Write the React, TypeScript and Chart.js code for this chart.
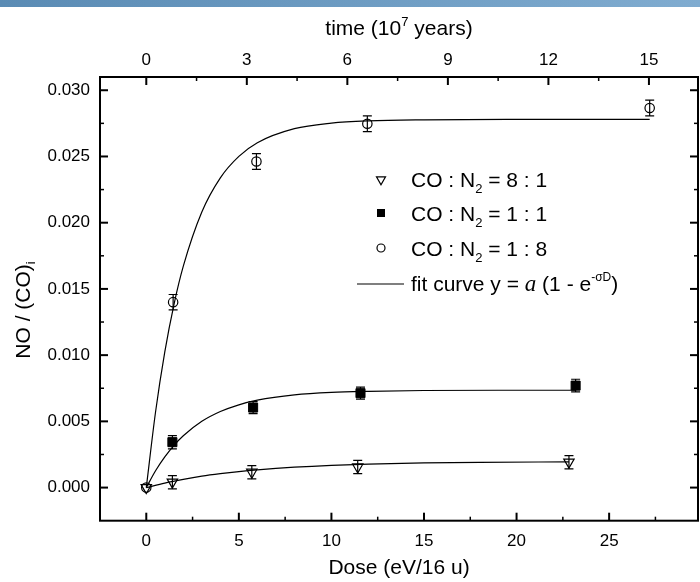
import React, { useEffect, useRef } from "react";
import { Chart, registerables } from "chart.js";

Chart.register(...registerables);

const SANS = '"Liberation Sans", Arial, sans-serif';
const SERIF = '"Liberation Serif", "Times New Roman", serif';

// Axis ticks
const DOSE_TICKS = [0, 5, 10, 15, 20, 25];
const DOSE_MINOR = [2.5, 7.5, 12.5, 17.5, 22.5, 27.5];
const TIME_TICKS = [0, 3, 6, 9, 12, 15];
const TIME_MINOR = [1.5, 4.5, 7.5, 10.5, 13.5];
const RATIO_TICKS = [0, 0.005, 0.01, 0.015, 0.02, 0.025, 0.03];
const RATIO_MINOR = [0.0025, 0.0075, 0.0125, 0.0175, 0.0225, 0.0275];

// Axis ranges; the time axis reads 15 (10^7 years) at this dose
const DOSE_MIN = -2.5;
const DOSE_MAX = 29.8;
const RATIO_MIN = -0.0025;
const RATIO_MAX = 0.031;
const DOSE_AT_TIME_15 = 27.15;

// CO : N2 = 8 : 1
const doseA = [0, 1.41, 5.7, 11.42, 22.83];
const ratioA = [0, 0.00041, 0.00116, 0.00156, 0.00192];
const errA = [0, 0.0005, 0.0005, 0.0005, 0.0005];

// CO : N2 = 1 : 1
const doseB = [1.41, 5.77, 11.57, 23.19];
const ratioB = [0.00343, 0.00604, 0.00713, 0.0077];
const errB = [0.0005, 0.00045, 0.00045, 0.00048];

// CO : N2 = 1 : 8
const doseC = [0, 1.45, 5.95, 11.94, 27.19];
const ratioC = [0, 0.014, 0.02462, 0.02747, 0.02866];
const errC = [0, 0.00058, 0.00059, 0.0006, 0.0006];

// Fit curves y = a (1 - e^{-σD}), sampled along each series
const fitDoseA = [0, 1, 2, 3, 4, 5, 6, 8, 10, 12, 15, 18, 22.83];
const fitA = [0, 0.00034, 0.00062, 0.00086, 0.00105, 0.00121, 0.00134, 0.00154, 0.00168, 0.00177, 0.00186, 0.00191, 0.00194];
const fitDoseB = [0, 0.5, 1, 1.5, 2, 3, 4, 5, 6, 8, 10, 12, 15, 20, 23.19];
const fitB = [0, 0.00127, 0.00232, 0.00319, 0.00391, 0.005, 0.00574, 0.00625, 0.0066, 0.007, 0.00719, 0.00727, 0.00733, 0.00735, 0.00735];
const fitDoseC = [0, 0.5, 1, 1.5, 2, 3, 4, 5, 6, 8, 10, 12, 15, 20, 27.19];
const fitC = [0, 0.00571, 0.01025, 0.01386, 0.01672, 0.02081, 0.02339, 0.02501, 0.02604, 0.0271, 0.02752, 0.02769, 0.02777, 0.0278, 0.0278];

const pts = (xs: number[], ys: number[]) => xs.map((x, i) => ({ x, y: ys[i] }));

type Seg = { t: string; size: number; dy?: number; family?: string; style?: string };

function drawRich(ctx: CanvasRenderingContext2D, segs: Seg[], x: number, y: number, align: "left" | "center") {
  const fontOf = (s: Seg) => `${s.style || ""} ${s.size}px ${s.family || SANS}`;
  let total = 0;
  for (const s of segs) {
    ctx.font = fontOf(s);
    total += ctx.measureText(s.t).width;
  }
  let cx = align === "center" ? x - total / 2 : x;
  ctx.textAlign = "left";
  ctx.textBaseline = "alphabetic";
  for (const s of segs) {
    ctx.font = fontOf(s);
    ctx.fillText(s.t, cx, y + (s.dy || 0));
    cx += ctx.measureText(s.t).width;
  }
}

const framePlugin = {
  id: "frame",
  beforeDraw(chart: any) {
    const { ctx, width } = chart;
    ctx.save();
    const g = ctx.createLinearGradient(0, 0, width, 0);
    g.addColorStop(0, "#5a8bb4");
    g.addColorStop(1, "#80acd0");
    ctx.fillStyle = g;
    ctx.fillRect(0, 0, width, 7);
    ctx.restore();
  },
  afterDatasetsDraw(chart: any) {
    const { ctx } = chart;
    const yScale = chart.scales.y;
    ctx.save();
    ctx.strokeStyle = "#000";
    ctx.lineWidth = 1.2;
    chart.data.datasets.forEach((ds: any, i: number) => {
      if (!ds.errors) return;
      const meta = chart.getDatasetMeta(i);
      ds.data.forEach((p: any, j: number) => {
        const e = ds.errors[j];
        if (!e) return;
        const px = meta.data[j].x;
        const top = yScale.getPixelForValue(p.y + e);
        const bot = yScale.getPixelForValue(p.y - e);
        ctx.beginPath();
        ctx.moveTo(px, top);
        ctx.lineTo(px, bot);
        ctx.moveTo(px - 4.5, top);
        ctx.lineTo(px + 4.5, top);
        ctx.moveTo(px - 4.5, bot);
        ctx.lineTo(px + 4.5, bot);
        ctx.stroke();
      });
    });
    ctx.restore();
  },
  afterDraw(chart: any) {
    const { ctx, chartArea: a } = chart;
    const xs = chart.scales.x;
    const ts = chart.scales.xTime;
    const ys = chart.scales.y;
    ctx.save();
    ctx.strokeStyle = "#000";
    ctx.fillStyle = "#000";

    // frame
    ctx.lineWidth = 2;
    ctx.strokeRect(a.left, a.top, a.right - a.left, a.bottom - a.top);

    // inward ticks
    const tick = (x1: number, y1: number, x2: number, y2: number, w: number) => {
      ctx.lineWidth = w;
      ctx.beginPath();
      ctx.moveTo(x1, y1);
      ctx.lineTo(x2, y2);
      ctx.stroke();
    };
    DOSE_TICKS.forEach((v) => {
      const px = xs.getPixelForValue(v);
      tick(px, a.bottom, px, a.bottom - 8, 2);
    });
    DOSE_MINOR.forEach((v) => {
      const px = xs.getPixelForValue(v);
      tick(px, a.bottom, px, a.bottom - 4, 1.5);
    });
    TIME_TICKS.forEach((v) => {
      const px = ts.getPixelForValue(v);
      tick(px, a.top, px, a.top + 8, 2);
    });
    TIME_MINOR.forEach((v) => {
      const px = ts.getPixelForValue(v);
      tick(px, a.top, px, a.top + 4, 1.5);
    });
    RATIO_TICKS.forEach((v) => {
      const py = ys.getPixelForValue(v);
      tick(a.left, py, a.left + 8, py, 2);
      tick(a.right, py, a.right - 8, py, 2);
    });
    RATIO_MINOR.forEach((v) => {
      const py = ys.getPixelForValue(v);
      tick(a.left, py, a.left + 4, py, 1.5);
      tick(a.right, py, a.right - 4, py, 1.5);
    });

    // axis titles
    const cxMid = (a.left + a.right) / 2;
    drawRich(ctx, [{ t: "Dose (eV/16 u)", size: 21 }], cxMid, 574, "center");
    drawRich(
      ctx,
      [
        { t: "time (10", size: 21 },
        { t: "7", size: 13, dy: -9 },
        { t: " years)", size: 21 },
      ],
      cxMid,
      35,
      "center"
    );
    ctx.save();
    ctx.translate(22, 310);
    ctx.rotate(-Math.PI / 2);
    drawRich(
      ctx,
      [
        { t: "NO / (CO)", size: 21 },
        { t: "i", size: 13, dy: 5 },
      ],
      0,
      7.5,
      "center"
    );
    ctx.restore();

    // legend
    const symX = 381;
    const txtX = 411;
    const rows = [179.5, 213, 248, 283];
    ctx.lineWidth = 1.2;
    // down triangle
    {
      const r = 5.2;
      const cy = rows[0];
      ctx.beginPath();
      ctx.moveTo(symX - r * 0.866, cy - r / 2);
      ctx.lineTo(symX + r * 0.866, cy - r / 2);
      ctx.lineTo(symX, cy + r);
      ctx.closePath();
      ctx.stroke();
    }
    ctx.fillRect(symX - 4, rows[1] - 4, 8, 8);
    ctx.beginPath();
    ctx.arc(symX, rows[2], 4, 0, Math.PI * 2);
    ctx.stroke();
    ctx.beginPath();
    ctx.moveTo(357, rows[3] + 1);
    ctx.lineTo(404, rows[3] + 1);
    ctx.stroke();

    const ratioLabel = (lhs: string, rhs: string, y: number) =>
      drawRich(
        ctx,
        [
          { t: "CO : N", size: 21 },
          { t: "2", size: 13, dy: 6 },
          { t: ` = ${lhs} : ${rhs}`, size: 21 },
        ],
        txtX,
        y + 7.5,
        "left"
      );
    ratioLabel("8", "1", rows[0]);
    ratioLabel("1", "1", rows[1]);
    ratioLabel("1", "8", rows[2]);
    drawRich(
      ctx,
      [
        { t: "fit curve y = ", size: 21 },
        { t: "a", size: 23, family: SERIF, style: "italic" },
        { t: " (1 - e", size: 21 },
        { t: "-σD", size: 12, dy: -10 },
        { t: ")", size: 21 },
      ],
      txtX,
      rows[3] + 7.5,
      "left"
    );
    ctx.restore();
  },
};

export default function App() {
  const ref = useRef<HTMLCanvasElement | null>(null);

  useEffect(() => {
    if (!ref.current) return;
    const tickFont = { family: SANS, size: 17 };
    const hiddenGrid = { display: false, drawTicks: false };
    const chart = new Chart(ref.current, {
      type: "scatter",
      data: {
        datasets: [
          {
            type: "line",
            data: pts(fitDoseA, fitA),
            borderColor: "#000",
            borderWidth: 1.2,
            pointRadius: 0,
            cubicInterpolationMode: "monotone",
            fill: false,
          },
          {
            type: "line",
            data: pts(fitDoseB, fitB),
            borderColor: "#000",
            borderWidth: 1.2,
            pointRadius: 0,
            cubicInterpolationMode: "monotone",
            fill: false,
          },
          {
            type: "line",
            data: pts(fitDoseC, fitC),
            borderColor: "#000",
            borderWidth: 1.2,
            pointRadius: 0,
            cubicInterpolationMode: "monotone",
            fill: false,
          },
          {
            label: "CO : N2 = 8 : 1",
            data: pts(doseA, ratioA),
            errors: errA,
            pointStyle: "triangle",
            rotation: 180,
            pointRadius: 6,
            borderColor: "#000",
            borderWidth: 1.2,
            backgroundColor: "rgba(0,0,0,0)",
          } as any,
          {
            label: "CO : N2 = 1 : 1",
            data: pts(doseB, ratioB),
            errors: errB,
            pointStyle: "rect",
            pointRadius: 6.4,
            borderColor: "#000",
            borderWidth: 1,
            backgroundColor: "#000",
          } as any,
          {
            label: "CO : N2 = 1 : 8",
            data: pts(doseC, ratioC),
            errors: errC,
            pointStyle: "circle",
            pointRadius: 4.7,
            borderColor: "#000",
            borderWidth: 1.2,
            backgroundColor: "rgba(0,0,0,0)",
          } as any,
        ],
      },
      options: {
        responsive: false,
        devicePixelRatio: 1,
        animation: false,
        layout: { autoPadding: false, padding: { left: 0, right: 2, top: 0, bottom: 0 } },
        plugins: { legend: { display: false }, tooltip: { enabled: false } },
        scales: {
          x: {
            type: "linear",
            position: "bottom",
            min: DOSE_MIN,
            max: DOSE_MAX,
            grid: hiddenGrid,
            border: { display: false },
            ticks: { font: tickFont, color: "#000", padding: 10, maxRotation: 0 },
            afterBuildTicks: (s: any) => {
              s.ticks = DOSE_TICKS.map((v) => ({ value: v }));
            },
            afterFit: (s: any) => {
              s.height = 61.3;
            },
          },
          xTime: {
            type: "linear",
            axis: "x",
            position: "top",
            min: (DOSE_MIN * 15) / DOSE_AT_TIME_15,
            max: (DOSE_MAX * 15) / DOSE_AT_TIME_15,
            grid: hiddenGrid,
            border: { display: false },
            ticks: { font: tickFont, color: "#000", padding: 6, maxRotation: 0 },
            afterBuildTicks: (s: any) => {
              s.ticks = TIME_TICKS.map((v) => ({ value: v }));
            },
            afterFit: (s: any) => {
              s.height = 77;
            },
          },
          y: {
            type: "linear",
            position: "left",
            min: RATIO_MIN,
            max: RATIO_MAX,
            grid: hiddenGrid,
            border: { display: false },
            ticks: {
              font: tickFont,
              color: "#000",
              padding: 10,
              callback: (v: any) => Number(v).toFixed(3),
            },
            afterBuildTicks: (s: any) => {
              s.ticks = RATIO_TICKS.map((v) => ({ value: v }));
            },
            afterFit: (s: any) => {
              s.width = 100;
            },
          },
        },
      } as any,
      plugins: [framePlugin],
    });
    return () => chart.destroy();
  }, []);

  return (
    <div style={{ position: "absolute", left: 0, top: 0, width: 700, height: 582, background: "#fff" }}>
      <canvas ref={ref} width={700} height={582} style={{ width: 700, height: 582, display: "block" }} />
    </div>
  );
}
